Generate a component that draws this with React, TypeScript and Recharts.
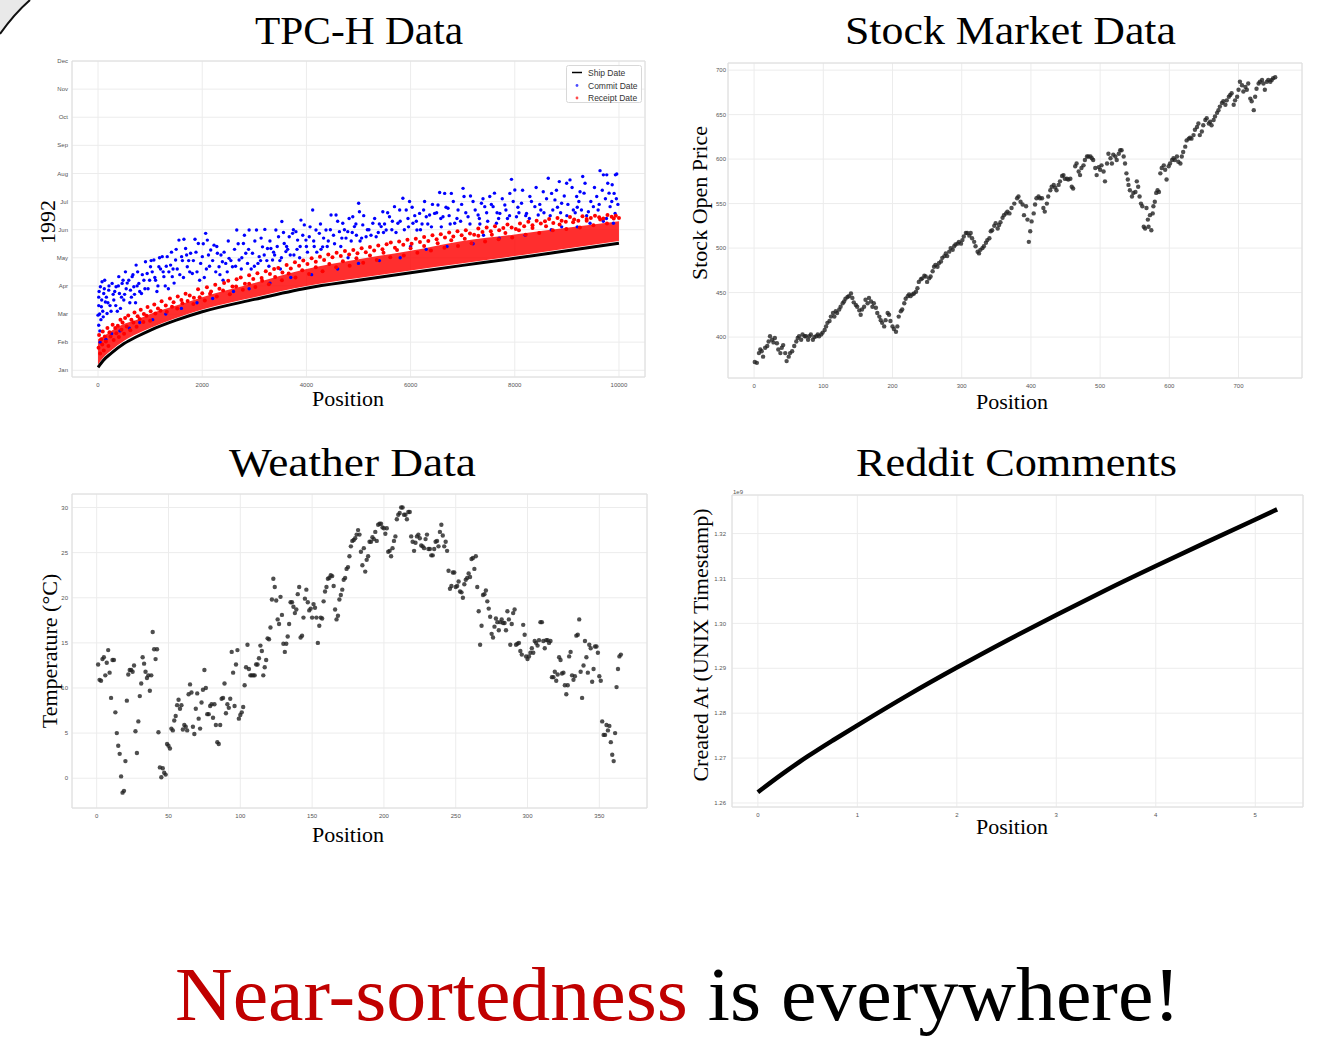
import React from 'react';
import {
  ComposedChart, ScatterChart, LineChart, Scatter, Line, Area, XAxis, YAxis,
  CartesianGrid, ReferenceArea,
} from 'recharts';

// ---------- TPC-H (y in months since Jan 1 1992) ----------
const monthLabels = ['Jan', 'Feb', 'Mar', 'Apr', 'May', 'Jun', 'Jul', 'Aug', 'Sep', 'Oct', 'Nov', 'Dec'];
const tpcXTicks = [0, 2000, 4000, 6000, 8000, 10000];
const shipPos = [0, 100, 250, 500, 750, 1000, 1500, 2000, 3000, 4000, 5000, 6000, 7000, 8000, 9000, 10000];
const shipMonth = [0.1, 0.35, 0.6, 0.95, 1.2, 1.42, 1.78, 2.08, 2.52, 2.92, 3.2, 3.47, 3.73, 3.98, 4.25, 4.52];
const receiptLow = [0.2, 0.45, 0.7, 1.05, 1.3, 1.5, 1.86, 2.16, 2.6, 3.0, 3.28, 3.55, 3.81, 4.06, 4.33, 4.6];
const receiptHigh = [1.1, 1.2, 1.4, 1.65, 1.8, 2.0, 2.3, 2.6, 3.1, 3.6, 3.95, 4.25, 4.6, 4.83, 5.07, 5.3];

const receiptPoints: [number, number][] = [
  [20, 1.25], [60, 1.1], [90, 1.38], [130, 1.2], [180, 1.5], [220, 1.35], [280, 1.62], [330, 1.5], [380, 1.58],
  [430, 1.8], [470, 1.7], [520, 1.86], [580, 1.95], [640, 1.8], [700, 2.05], [760, 1.92], [820, 2.15], [880, 2.0],
  [950, 2.25], [1010, 2.1], [1080, 2.34], [1150, 2.2], [1220, 2.45], [1300, 2.3], [1380, 2.55], [1450, 2.42],
  [1530, 2.62], [1600, 2.5], [1680, 2.72], [1760, 2.66], [1840, 2.58], [1920, 2.88], [2000, 2.74], [2090, 2.95],
  [2170, 2.8], [2250, 3.04], [2330, 2.9], [2420, 3.1], [2500, 3.18], [2580, 2.98], [2660, 3.24], [2740, 3.3],
  [2820, 3.08], [2900, 3.38], [2980, 3.25], [3060, 3.45], [3140, 3.28], [3220, 3.52], [3300, 3.42], [3380, 3.6],
  [3460, 3.64], [3540, 3.48], [3620, 3.74], [3700, 3.62], [3780, 3.84], [3860, 3.72], [3940, 3.9], [4020, 3.78],
  [4100, 3.98], [4180, 3.86], [4260, 4.04], [4340, 3.92], [4420, 4.12], [4500, 4.02], [4580, 4.18], [4660, 4.06],
  [4740, 4.24], [4820, 4.12], [4900, 4.28], [4980, 4.16], [5060, 4.34], [5140, 4.2], [5220, 4.38], [5300, 4.26],
  [5380, 4.44], [5460, 4.3], [5540, 4.48], [5620, 4.54], [5700, 4.36], [5780, 4.58], [5860, 4.46], [5940, 4.64],
  [6020, 4.5], [6100, 4.68], [6180, 4.56], [6260, 4.74], [6340, 4.6], [6420, 4.8], [6500, 4.66], [6580, 4.84],
  [6660, 4.72], [6740, 4.9], [6820, 4.76], [6900, 4.94], [6980, 4.8], [7060, 4.98], [7140, 4.86], [7220, 4.82],
  [7300, 5.04], [7380, 4.92], [7460, 5.08], [7540, 4.94], [7620, 5.12], [7700, 4.98], [7780, 5.06], [7860, 5.18],
  [7940, 5.08], [8020, 5.02], [8100, 5.22], [8180, 5.12], [8260, 5.28], [8340, 5.16], [8420, 5.32], [8500, 5.22],
  [8580, 5.3], [8660, 5.38], [8740, 5.24], [8820, 5.42], [8900, 5.32], [8980, 5.28], [9060, 5.45], [9140, 5.36],
  [9220, 5.32], [9300, 5.48], [9380, 5.38], [9460, 5.42], [9540, 5.5], [9620, 5.44], [9700, 5.4], [9780, 5.52],
  [9860, 5.46], [9940, 5.5], [10000, 5.42],
  [10, 0.8], [40, 0.6], [80, 0.92], [110, 0.7], [150, 1.02], [200, 0.86], [240, 1.2], [300, 1.08], [350, 1.32],
  [400, 1.18], [450, 1.44], [500, 1.3], [550, 1.56], [620, 1.42], [680, 1.7], [740, 1.55], [800, 1.82], [870, 1.72],
  [930, 1.94], [1000, 1.76], [1100, 2.02], [1200, 2.12], [1320, 2.08], [1420, 2.26], [1520, 2.2], [1620, 2.38],
  [1720, 2.46], [1830, 2.36], [1950, 2.6], [2050, 2.48], [2150, 2.72], [2280, 2.62], [2400, 2.84], [2530, 2.7],
  [2650, 2.98], [2780, 2.86], [2900, 3.08], [3020, 2.96], [3150, 3.18], [3280, 3.06], [3400, 3.32], [3530, 3.2],
  [3660, 3.44], [3790, 3.3], [3920, 3.56], [4050, 3.42], [4180, 3.66], [4310, 3.52], [4440, 3.78], [4570, 3.66],
  [4700, 3.88], [4830, 3.72], [4960, 3.98], [5090, 3.82], [5220, 4.08], [5350, 3.92], [5480, 4.18], [5610, 4.02],
  [5740, 4.28], [5870, 4.08], [6000, 4.34], [6130, 4.18], [6260, 4.42], [6390, 4.26], [6520, 4.52], [6650, 4.36],
  [6780, 4.62], [6910, 4.42], [7040, 4.68], [7170, 4.52], [7300, 4.78], [7430, 4.58], [7560, 4.82], [7690, 4.66],
  [7820, 4.88], [7950, 4.72], [8080, 4.98], [8210, 4.82], [8340, 5.06], [8470, 4.88], [8600, 5.12], [8730, 4.98],
  [8860, 5.18], [8990, 5.02], [9120, 5.26], [9250, 5.08], [9380, 5.32], [9510, 5.16], [9640, 5.36], [9770, 5.22],
  [9900, 5.4],
];

const commitPoints: [number, number][] = [
  [13, 1.6], [0, 1.96], [13, 2.6], [45, 2.97], [77, 3.15], [128, 3.2], [13, 2.3], [64, 2.26], [109, 2.73], [141, 2.43],
  [205, 2.85], [173, 2.02], [270, 3.09], [302, 2.5], [346, 2.97], [398, 3.33], [410, 2.73], [462, 3.09], [494, 2.5],
  [526, 3.5], [590, 3.2], [622, 2.85], [655, 3.33], [687, 2.97], [731, 3.74], [783, 3.09], [834, 2.73], [911, 3.86],
  [943, 3.44], [1007, 3.68], [1072, 3.92], [1104, 3.2], [1168, 3.68], [1232, 4.04], [1264, 3.33], [1328, 4.04],
  [1393, 3.74], [1425, 3.33], [1489, 3.92], [1553, 4.63], [1604, 4.04], [1649, 4.66], [1681, 4.33], [1713, 3.68],
  [1777, 4.16], [1810, 3.44], [1861, 4.66], [1925, 4.51], [1970, 3.8], [2002, 4.04], [2066, 4.87], [2098, 4.63],
  [2163, 4.28], [2227, 4.45], [2291, 4.16], [2323, 3.68], [2387, 3.86], [2451, 3.8], [2515, 3.98], [2580, 3.68],
  [2663, 4.99], [2708, 3.92], [2791, 4.51], [2836, 4.16], [2900, 4.99], [2965, 4.16], [3042, 4.99], [3093, 4.04],
  [3157, 4.39], [3202, 5.01], [3253, 4.33], [3318, 4.33], [3350, 3.92], [3414, 4.99], [3465, 4.75], [3529, 5.29],
  [3574, 4.51], [3606, 4.22], [3670, 4.75], [3735, 4.87], [3799, 4.93], [3831, 4.63], [3895, 5.34], [3960, 5.17],
  [3991, 4.63], [4055, 4.75], [4120, 5.7], [4184, 4.99], [4248, 4.87], [4312, 4.39], [4376, 4.99], [4473, 5.52],
  [4569, 5.52], [4634, 4.93], [4698, 5.23], [4794, 4.93], [4890, 5.46], [4922, 5.11], [5003, 5.94], [5018, 5.64],
  [5082, 5.17], [5146, 4.75], [5275, 5.23], [5339, 4.75], [5435, 5.11], [5467, 5.64], [5531, 4.99], [5595, 5.46],
  [5691, 5.82], [5756, 5.23], [5852, 6.12], [5916, 5.7], [5980, 6.0], [6045, 5.23], [6122, 4.99], [6173, 5.58],
  [6269, 6.0], [6301, 5.46], [6365, 5.52], [6461, 5.58], [6558, 6.32], [6526, 5.88], [6622, 5.46], [6654, 6.29],
  [6718, 5.76], [6782, 6.29], [6847, 5.23], [6911, 5.7], [7007, 6.47], [7026, 6.18], [7103, 5.46], [7199, 6.0],
  [7296, 5.52], [7360, 5.94], [7424, 5.82], [7520, 6.18], [7584, 5.82], [7648, 5.23], [7713, 5.58], [7809, 5.88],
  [7905, 6.29], [7937, 6.79], [8001, 6.41], [8033, 5.46], [8130, 5.94], [8226, 5.58], [8290, 6.18], [8386, 5.82],
  [8450, 5.52], [8547, 6.35], [8643, 6.83], [8707, 6.29], [8771, 6.06], [8855, 6.71], [8900, 5.94], [8996, 6.65],
  [9060, 6.77], [9124, 5.7], [9188, 6.18], [9253, 6.35], [9304, 6.89], [9349, 6.65], [9413, 5.64], [9445, 5.23],
  [9509, 5.82], [9573, 6.18], [9637, 7.1], [9701, 6.95], [9766, 6.95], [9785, 6.65], [9830, 5.82], [9862, 6.0],
  [9907, 6.29], [9932, 6.95], [9958, 6.98], [9894, 5.23], [9926, 5.58],
  [30, 2.0], [55, 1.8], [90, 2.1], [160, 2.6], [230, 2.3], [320, 2.8], [370, 2.1], [450, 2.6], [540, 2.9],
  [610, 2.4], [700, 2.7], [760, 3.5], [880, 3.2], [960, 2.9], [1040, 3.5], [1130, 2.8], [1200, 3.6], [1290, 3.0],
  [1360, 3.5], [1460, 3.1], [1520, 3.6], [1640, 3.3], [1740, 3.9], [1900, 3.5], [2040, 3.3], [2140, 3.7],
  [2260, 3.5], [2360, 4.1], [2480, 3.5], [2620, 4.3], [2750, 3.6], [2870, 3.8], [3000, 3.7], [3120, 3.9],
  [3280, 3.7], [3390, 4.1], [3520, 4.0], [3640, 4.3], [3760, 4.1], [3880, 4.4], [4020, 4.2], [4150, 4.4],
  [4280, 4.3], [4420, 4.6], [4540, 4.5], [4660, 4.4], [4760, 4.7], [4860, 4.6], [4960, 4.8], [5060, 4.7],
  [5200, 5.0], [5380, 4.9], [5500, 5.2], [5640, 5.0], [5800, 5.3], [5960, 5.1], [6080, 5.5], [6220, 5.2],
  [6400, 5.1], [6580, 5.4], [6760, 5.2], [6960, 5.3], [7140, 5.2], [7320, 5.4], [7480, 5.3], [7660, 5.6],
  [7860, 5.4], [8080, 5.6], [8280, 5.4], [8500, 5.7], [8680, 5.5], [8820, 5.8], [9000, 5.5], [9200, 5.8],
  [9380, 5.5], [9600, 5.7], [9760, 5.4], [9980, 5.9],
  [40, 1.0], [150, 1.1], [260, 1.3], [420, 1.4], [600, 1.5], [800, 1.7], [1050, 1.8], [1300, 2.0], [1600, 2.2],
  [1900, 2.4], [2200, 2.55], [2400, 3.2], [2600, 2.8], [2900, 2.9], [3300, 3.1], [3500, 3.6], [3700, 3.3],
  [4100, 3.4], [4600, 3.6], [4800, 4.0], [5000, 3.8], [5400, 3.9], [5800, 4.0], [6000, 4.4], [6300, 4.3],
  [6700, 4.4], [7200, 4.5], [7400, 4.8], [7700, 4.7], [8200, 4.8], [8700, 5.0], [8900, 5.1], [9200, 5.1], [9700, 5.3],
  [20, 2.8], [35, 1.4], [70, 2.5], [100, 1.9], [120, 2.9], [190, 2.4], [210, 3.0], [250, 2.1], [290, 2.7],
  [340, 2.3], [390, 3.0], [430, 2.2], [480, 3.2], [510, 2.7], [560, 3.1], [640, 2.6], [670, 3.4], [720, 2.4],
  [750, 3.0], [800, 2.8], [850, 3.4], [900, 2.9], [990, 3.2], [1020, 3.9], [1090, 3.3], [1150, 3.0], [1180, 4.0],
  [1250, 3.5], [1310, 3.7], [1350, 2.9], [1410, 4.2], [1440, 3.6], [1500, 4.3], [1570, 3.4], [1620, 3.9],
  [1700, 4.1], [1760, 3.5], [1830, 3.9], [1880, 4.2], [1950, 3.2], [2020, 4.5], [2080, 3.6], [2120, 4.1],
  [2200, 3.9], [2280, 4.4], [2340, 3.4], [2420, 4.2], [2500, 4.6], [2550, 3.9], [2640, 3.7], [2690, 4.5],
  [2760, 4.0], [2810, 4.8], [2890, 4.3], [2940, 3.6], [3010, 4.6], [3070, 3.8], [3130, 4.7], [3190, 4.1],
  [3240, 3.9], [3300, 4.6], [3370, 4.2], [3440, 4.4], [3490, 3.9], [3560, 4.9], [3620, 4.4], [3690, 4.1],
  [3750, 5.0], [3820, 4.3], [3870, 4.0], [3930, 4.8], [4000, 4.4], [4070, 5.1], [4140, 4.6], [4200, 4.2],
  [4270, 5.2], [4330, 4.7], [4400, 4.4], [4460, 5.0], [4520, 4.8], [4600, 5.3], [4680, 4.7], [4730, 5.0],
  [4820, 5.4], [4880, 4.9], [4950, 5.2], [5030, 4.6], [5100, 5.5], [5170, 5.0], [5240, 4.8], [5310, 5.4],
  [5400, 5.2], [5480, 4.9], [5560, 5.6], [5650, 5.3], [5720, 4.9], [5790, 5.7], [5880, 5.0], [5950, 5.4],
  [6030, 5.8], [6110, 5.3], [6190, 5.0], [6250, 5.7], [6330, 5.2], [6420, 5.9], [6500, 5.6], [6590, 5.1],
  [6680, 5.8], [6740, 5.5], [6820, 6.0], [6890, 5.4], [6980, 5.9], [7060, 5.6], [7150, 6.2], [7240, 5.7],
  [7330, 5.2], [7390, 6.1], [7460, 5.6], [7550, 5.9], [7610, 6.3], [7690, 5.4], [7760, 6.1], [7830, 5.7],
  [7900, 5.5], [7970, 6.0], [8060, 5.8], [8150, 6.4], [8210, 5.5], [8320, 6.0], [8410, 6.5], [8480, 5.9],
  [8560, 5.6], [8610, 6.1], [8730, 5.7], [8800, 6.4], [8880, 5.6], [8950, 6.2], [9020, 5.9], [9100, 6.5],
  [9160, 5.6], [9230, 6.0], [9280, 5.7], [9330, 6.3], [9460, 6.0], [9530, 6.5], [9620, 5.9], [9680, 6.4],
  [9740, 6.1], [9810, 6.3], [9870, 6.6], [9950, 6.1],
];

// ---------- Stock ----------
const stockXTicks = [0, 100, 200, 300, 400, 500, 600, 700];
const stockYTicks = [400, 450, 500, 550, 600, 650, 700];
const stockPoints: [number, number][] = [
  [1, 372], [4, 371], [7, 382], [9, 386], [11, 384], [13, 378], [16, 388], [19, 390], [21, 395], [23, 401], [26, 397],
  [28, 394], [30, 399], [33, 393], [35, 386], [38, 382], [40, 388], [42, 391], [45, 382], [47, 373], [50, 378],
  [52, 382], [55, 384], [58, 390], [61, 395], [63, 399], [65, 401], [68, 397], [70, 403], [73, 401], [75, 401],
  [78, 397], [80, 401], [82, 403], [85, 397], [87, 400], [90, 401], [92, 403], [94, 401], [97, 403], [99, 405],
  [102, 408], [104, 412], [106, 416], [109, 418], [111, 423], [114, 427], [116, 423], [118, 429], [120, 427],
  [123, 431], [125, 434], [128, 438], [130, 440], [132, 443], [135, 445], [137, 446], [140, 449], [142, 444],
  [144, 439], [147, 436], [149, 434], [152, 430], [154, 425], [156, 431], [159, 434], [161, 442], [164, 438],
  [166, 444], [169, 440], [171, 434], [173, 438], [176, 433], [178, 427], [181, 423], [183, 419], [185, 416],
  [188, 412], [190, 419], [193, 427], [195, 425], [197, 418], [200, 412], [202, 409], [205, 406], [207, 412],
  [209, 423], [212, 429], [214, 431], [217, 438], [219, 443], [222, 446], [224, 448], [226, 446], [229, 448],
  [231, 449], [234, 451], [236, 455], [238, 462], [241, 465], [243, 466], [246, 469], [248, 468], [250, 462],
  [253, 466], [255, 468], [258, 474], [260, 479], [262, 481], [265, 479], [267, 483], [270, 485], [272, 489],
  [275, 491], [277, 494], [279, 491], [282, 496], [284, 500], [287, 498], [289, 502], [291, 504], [294, 505],
  [296, 507], [299, 505], [301, 509], [303, 513], [306, 517], [308, 517], [311, 514], [313, 517], [315, 511],
  [318, 507], [320, 502], [323, 496], [325, 494], [327, 498], [330, 500], [332, 502], [335, 506], [337, 509],
  [340, 511], [342, 519], [344, 520], [347, 525], [349, 528], [352, 522], [354, 526], [356, 529], [359, 534],
  [361, 537], [364, 539], [366, 541], [369, 539], [372, 545], [376, 550], [380, 556], [382, 558], [385, 552],
  [388, 549], [390, 537], [393, 547], [395, 532], [397, 507], [399, 519], [401, 530], [404, 539], [406, 549],
  [408, 556], [411, 558], [413, 556], [416, 556], [418, 545], [420, 541], [423, 550], [425, 558], [428, 565],
  [430, 569], [433, 571], [435, 568], [437, 565], [440, 571], [442, 575], [445, 581], [447, 582], [449, 578],
  [452, 578], [454, 577], [457, 578], [459, 569], [461, 567], [464, 592], [466, 595], [469, 586], [471, 582],
  [473, 590], [476, 593], [478, 599], [481, 603], [483, 603], [486, 603], [488, 601], [490, 599], [493, 590],
  [495, 582], [498, 591], [500, 588], [502, 593], [505, 586], [507, 575], [510, 595], [512, 606], [515, 601],
  [517, 595], [519, 605], [522, 603], [524, 599], [527, 606], [529, 610], [531, 610], [534, 603], [536, 595],
  [538, 584], [540, 577], [541, 571], [543, 565], [546, 558], [548, 562], [551, 563], [553, 575], [555, 569],
  [557, 558], [559, 550], [561, 547], [563, 524], [565, 522], [567, 545], [569, 532], [570, 524], [572, 537],
  [574, 520], [576, 539], [577, 547], [579, 552], [581, 562], [583, 565], [585, 563], [587, 584], [589, 590],
  [592, 593], [594, 588], [596, 577], [599, 592], [601, 595], [604, 599], [606, 601], [608, 599], [611, 603],
  [613, 597], [616, 595], [618, 603], [620, 608], [623, 614], [625, 621], [628, 623], [630, 624], [632, 623],
  [635, 627], [637, 633], [640, 636], [642, 640], [644, 627], [647, 631], [649, 638], [652, 644], [654, 646],
  [657, 640], [659, 642], [661, 638], [664, 644], [666, 648], [669, 652], [671, 655], [673, 659], [676, 663],
  [678, 665], [681, 661], [683, 666], [686, 670], [688, 672], [690, 674], [693, 661], [695, 666], [698, 670],
  [700, 678], [702, 687], [705, 683], [707, 676], [710, 681], [712, 678], [714, 685], [717, 668], [719, 665],
  [722, 655], [724, 670], [726, 679], [729, 685], [731, 687], [734, 689], [736, 685], [738, 678], [741, 687],
  [743, 689], [746, 687], [748, 689], [750, 691], [753, 692],
];

// ---------- Weather ----------
const weatherXTicks = [0, 50, 100, 150, 200, 250, 300, 350];
const weatherYTicks = [0, 5, 10, 15, 20, 25, 30];
const weatherPoints: [number, number][] = [
  [1, 12.6], [2, 10.9], [3, 10.8], [4, 13.2], [5, 13.4], [6, 11.4], [7, 12.8], [8, 14.2], [9, 11.7], [10, 8.9],
  [11, 13.1], [12, 13.1], [13, 7.3], [14, 5.0], [15, 3.6], [16, 2.7], [17, 0.2], [18, -1.6], [19, -1.4], [20, 1.9],
  [21, 8.6], [22, 11.5], [23, 12.0], [24, 12.0], [25, 11.8], [26, 12.5], [27, 5.2], [28, 2.8], [29, 6.3], [30, 9.1],
  [31, 10.5], [32, 13.4], [33, 12.7], [34, 11.8], [35, 11.1], [36, 11.4], [37, 9.7], [38, 11.4], [39, 16.2],
  [40, 14.3], [41, 13.2], [42, 14.3], [43, 5.1], [44, 1.2], [45, 0.1], [46, 1.1], [47, 0.6], [48, 0.4], [49, 3.8],
  [50, 3.6], [51, 3.3], [52, 5.5], [53, 5.3], [54, 6.4], [55, 6.9], [56, 8.1], [57, 8.7], [58, 7.7], [59, 8.1],
  [60, 5.4], [61, 5.9], [62, 5.7], [63, 5.3], [64, 9.3], [65, 10.4], [66, 9.5], [67, 5.7], [68, 4.9], [69, 7.7],
  [70, 9.4], [71, 6.6], [72, 5.5], [73, 8.4], [74, 9.8], [75, 12.0], [76, 10.0], [77, 7.1], [78, 7.1], [79, 8.0],
  [80, 8.2], [81, 6.7], [82, 8.2], [83, 5.9], [84, 4.0], [85, 3.8], [86, 5.9], [87, 8.8], [88, 8.9], [89, 10.5],
  [90, 7.2], [91, 8.2], [92, 7.8], [93, 8.8], [94, 14.0], [95, 11.7], [96, 8.0], [97, 12.6], [98, 14.2], [99, 6.6],
  [100, 7.0], [101, 7.3], [102, 7.9], [103, 10.3], [104, 12.3], [105, 14.8], [106, 12.1], [107, 11.4], [108, 11.4],
  [109, 11.4], [110, 11.4], [111, 12.6], [112, 12.6], [113, 13.3], [114, 14.7], [115, 14.1], [116, 11.4],
  [117, 12.3], [118, 13.1], [119, 15.5], [120, 15.4], [121, 16.7], [122, 19.8], [123, 22.1], [124, 21.2],
  [125, 19.7], [126, 17.6], [127, 17.1], [128, 20.1], [129, 18.1], [130, 14.9], [131, 14.0], [132, 14.9],
  [133, 15.7], [134, 17.1], [135, 19.5], [136, 19.5], [137, 19.0], [138, 18.3], [139, 18.7], [140, 20.4],
  [141, 21.2], [142, 15.6], [143, 15.8], [144, 17.8], [145, 19.9], [146, 20.9], [147, 19.5], [148, 18.6],
  [149, 18.8], [150, 17.8], [151, 19.3], [152, 18.9], [153, 17.8], [154, 15.0], [155, 16.9], [156, 17.8],
  [157, 17.7], [158, 19.6], [159, 20.7], [160, 21.2], [161, 22.1], [162, 22.2], [163, 22.5], [164, 22.4],
  [165, 21.3], [166, 18.7], [167, 17.6], [168, 18.0], [169, 19.8], [170, 20.3], [171, 20.9], [172, 22.0],
  [173, 22.2], [174, 23.2], [175, 23.4], [176, 24.6], [177, 25.7], [178, 26.3], [179, 26.4], [180, 26.6],
  [181, 27.0], [182, 27.5], [183, 27.0], [184, 25.1], [185, 23.6], [186, 25.5], [187, 22.9], [188, 24.2],
  [189, 24.6], [190, 26.2], [191, 26.2], [192, 26.7], [193, 26.5], [194, 27.3], [195, 26.3], [196, 28.1],
  [197, 28.2], [198, 28.2], [199, 27.8], [200, 27.7], [201, 27.1], [202, 27.7], [203, 25.1], [204, 25.2],
  [205, 24.6], [206, 25.5], [207, 26.3], [208, 26.8], [209, 28.7], [210, 29.2], [211, 29.4], [212, 30.0],
  [213, 30.0], [214, 29.2], [215, 29.2], [216, 28.7], [217, 29.5], [218, 29.5], [219, 26.8], [220, 26.2],
  [221, 25.2], [222, 26.1], [223, 26.8], [224, 27.0], [225, 26.6], [226, 25.8], [227, 25.7], [228, 25.5],
  [229, 26.5], [230, 27.0], [231, 25.4], [232, 25.4], [233, 24.7], [234, 24.7], [235, 25.4], [236, 26.2],
  [237, 26.3], [238, 25.7], [239, 27.3], [240, 28.1], [241, 26.9], [242, 25.7], [243, 26.2], [244, 25.2],
  [245, 23.0], [246, 21.0], [247, 21.3], [248, 22.8], [249, 22.8], [250, 21.2], [251, 21.3], [252, 21.8],
  [253, 20.7], [254, 20.6], [255, 20.0], [256, 21.5], [257, 22.0], [258, 22.2], [259, 22.7], [260, 22.3],
  [261, 24.3], [262, 24.4], [263, 23.2], [264, 24.6], [265, 21.2], [266, 18.5], [267, 14.8], [268, 16.9],
  [269, 20.3], [270, 20.4], [271, 20.8], [272, 19.6], [273, 18.8], [274, 17.9], [275, 16.0], [276, 15.6],
  [277, 16.8], [278, 17.7], [279, 17.3], [280, 16.4], [281, 17.3], [282, 17.6], [283, 17.2], [284, 17.2],
  [285, 16.4], [286, 18.5], [287, 17.6], [288, 14.8], [289, 17.1], [290, 18.3], [291, 18.7], [292, 14.8],
  [293, 14.9], [294, 15.0], [295, 14.1], [296, 13.7], [297, 17.0], [298, 15.9], [299, 13.5], [300, 13.2],
  [301, 13.5], [302, 13.9], [303, 14.4], [304, 13.9], [305, 15.2], [306, 15.0], [307, 14.7], [308, 15.3],
  [309, 17.3], [310, 17.3], [311, 15.2], [312, 14.4], [313, 15.3], [314, 15.3], [315, 15.0], [316, 15.2],
  [317, 11.2], [318, 11.2], [319, 11.8], [320, 10.8], [321, 11.5], [322, 13.4], [323, 13.1], [324, 11.6],
  [325, 11.7], [326, 10.3], [327, 9.3], [328, 10.3], [329, 13.5], [330, 14.0], [331, 11.4], [332, 10.9],
  [333, 11.3], [334, 15.8], [335, 15.9], [336, 17.6], [337, 11.8], [338, 8.9], [339, 12.5], [340, 15.2],
  [341, 13.4], [342, 11.7], [343, 14.8], [344, 14.4], [345, 10.7], [346, 12.1], [347, 14.6], [348, 14.6],
  [349, 13.9], [350, 11.3], [351, 10.8], [352, 6.3], [353, 4.8], [354, 4.8], [355, 5.9], [356, 5.3], [357, 5.8],
  [358, 4.0], [359, 2.6], [360, 1.9], [361, 5.0], [362, 10.1], [363, 12.1], [364, 13.5], [365, 13.7],
];

// ---------- Reddit (y in units of 1e9 s) ----------
const redditXTicks = [0, 1, 2, 3, 4, 5];
const redditYTicks = [1.26, 1.27, 1.28, 1.29, 1.3, 1.31, 1.32];
const redditPos = [0, 0.25, 0.5, 0.75, 1, 1.5, 2, 2.5, 3, 3.5, 4, 4.5, 5, 5.22];
const redditCreated = [1.2624, 1.2666, 1.2704, 1.2739, 1.2773, 1.284, 1.2902, 1.2962, 1.3019, 1.3075, 1.3128, 1.318, 1.3231, 1.3254];

const tpcTable = shipPos.map((x, i) => ({ x, ship: shipMonth[i], band: [receiptLow[i], receiptHigh[i]] }));
const toXY = (pts: [number, number][]) => pts.map(([x, y]) => ({ x, y }));
const redditTable = redditPos.map((x, i) => ({ x, y: redditCreated[i] }));

const SERIF = '"Liberation Serif", "Times New Roman", serif';
const SANS = '"Liberation Sans", Arial, sans-serif';
const tickStyle = { fontSize: 6, fill: '#555', fontFamily: SANS };
const GRID = '#ececec';
const FRAME = '#dedede';

const dot = (r: number, fill: string, op = 1) => (p: any) =>
  p.cx == null ? <g /> : <circle cx={p.cx} cy={p.cy} r={r} fill={fill} fillOpacity={op} />;

const box = (left: number, top: number, w: number, h: number): React.CSSProperties => ({
  position: 'absolute', left, top, width: w, height: h,
});
const M = { top: 10, right: 10, bottom: 0, left: 0 };

export default function App() {
  return (
    <div style={{ position: 'absolute', left: 0, top: 0, width: 1338, height: 1038, background: '#fff', overflow: 'hidden' }}>
      {/* TPC-H */}
      <div style={box(12, 51, 643, 346)}>
        <ComposedChart width={643} height={346} data={tpcTable} margin={M}>
          <CartesianGrid stroke={GRID} />
          <XAxis type="number" dataKey="x" domain={[-500, 10500]} ticks={tpcXTicks} allowDataOverflow
            tick={tickStyle} tickLine={false} axisLine={false} tickSize={4} tickMargin={2} height={20} interval={0} />
          <YAxis type="number" domain={[-0.24, 11]} ticks={[0, 1, 2, 3, 4, 5, 6, 7, 8, 9, 10, 11]} allowDataOverflow
            tickFormatter={(v: number) => monthLabels[v]} tick={tickStyle} tickLine={false} axisLine={false}
            tickSize={2} tickMargin={2} width={60} interval={0} />
          <ReferenceArea x1={-500} x2={10500} y1={-0.24} y2={11} fill="none" stroke={FRAME} />
          <Area dataKey="band" type="monotone" stroke="none" fill="#ff0000" fillOpacity={0.82} isAnimationActive={false} />
          <Scatter data={toXY(commitPoints)} dataKey="y" fill="#0000ff" shape={dot(1.7, '#0000ff')} isAnimationActive={false} />
          <Scatter data={toXY(receiptPoints)} dataKey="y" fill="#ff0000" shape={dot(2, '#ff0000')} isAnimationActive={false} />
          <Line dataKey="ship" type="monotone" stroke="#000" strokeWidth={3} dot={false} isAnimationActive={false} />
        </ComposedChart>
      </div>

      {/* Stock */}
      <div style={box(668, 53, 644, 345)}>
        <ScatterChart width={644} height={345} margin={M}>
          <CartesianGrid stroke={GRID} />
          <XAxis type="number" dataKey="x" domain={[-37.7, 791.7]} ticks={stockXTicks} allowDataOverflow
            tick={tickStyle} tickLine={false} axisLine={false} tickSize={4} tickMargin={2} height={20} interval={0} />
          <YAxis type="number" dataKey="y" domain={[354, 708]} ticks={stockYTicks} allowDataOverflow
            tick={tickStyle} tickLine={false} axisLine={false} tickSize={1} tickMargin={1} width={60} interval={0} />
          <ReferenceArea x1={-37.7} x2={791.7} y1={354} y2={708} fill="none" stroke={FRAME} />
          <Scatter data={toXY(stockPoints)} shape={dot(2.2, '#222', 0.8)} isAnimationActive={false} />
        </ScatterChart>
      </div>

      {/* Weather */}
      <div style={box(12, 484, 645, 344)}>
        <ScatterChart width={645} height={344} margin={M}>
          <CartesianGrid stroke={GRID} />
          <XAxis type="number" dataKey="x" domain={[-17.2, 383.2]} ticks={weatherXTicks} allowDataOverflow
            tick={tickStyle} tickLine={false} axisLine={false} tickSize={4} tickMargin={2} height={20} interval={0} />
          <YAxis type="number" dataKey="y" domain={[-3.3, 31.5]} ticks={weatherYTicks} allowDataOverflow
            tick={tickStyle} tickLine={false} axisLine={false} tickSize={2} tickMargin={2} width={60} interval={0} />
          <ReferenceArea x1={-17.2} x2={383.2} y1={-3.3} y2={31.5} fill="none" stroke={FRAME} />
          <Scatter data={toXY(weatherPoints)} shape={dot(2.2, '#222', 0.8)} isAnimationActive={false} />
        </ScatterChart>
      </div>

      {/* Reddit */}
      <div style={box(672, 485, 641, 342)}>
        <LineChart width={641} height={342} data={redditTable} margin={M}>
          <CartesianGrid stroke={GRID} />
          <XAxis type="number" dataKey="x" domain={[-0.26, 5.48]} ticks={redditXTicks} allowDataOverflow
            tick={tickStyle} tickLine={false} axisLine={false} tickSize={4} tickMargin={2} height={20} interval={0} />
          <YAxis type="number" domain={[1.2591, 1.3286]} ticks={redditYTicks} allowDataOverflow
            tickFormatter={(v: number) => v.toFixed(2)} tick={tickStyle} tickLine={false} axisLine={false}
            tickSize={3} tickMargin={3} width={60} interval={0} />
          <ReferenceArea x1={-0.26} x2={5.48} y1={1.2591} y2={1.3286} fill="none" stroke={FRAME} />
          <Line dataKey="y" type="basis" stroke="#000" strokeWidth={4.5} dot={false} isAnimationActive={false} />
        </LineChart>
      </div>

      {/* titles, axis names, legend */}
      <svg width={1338} height={1038} style={{ position: 'absolute', left: 0, top: 0, pointerEvents: 'none' }}>
        <path d="M0,34 Q14,14 30,0 L0,0 Z" fill="#e9e9e9" />
        <path d="M0,34 Q14,14 30,0" fill="none" stroke="#111" strokeWidth={2} />
        <g fontFamily={SERIF} fill="#000" textAnchor="middle">
          <text x={359} y={43.5} fontSize={41} textLength={208} lengthAdjust="spacingAndGlyphs">TPC-H Data</text>
          <text x={1010.5} y={43.5} fontSize={41} textLength={331} lengthAdjust="spacingAndGlyphs">Stock Market Data</text>
          <text x={352.5} y={476} fontSize={41} textLength={247} lengthAdjust="spacingAndGlyphs">Weather Data</text>
          <text x={1016.5} y={476} fontSize={41} textLength={321} lengthAdjust="spacingAndGlyphs">Reddit Comments</text>
          <text x={348} y={406} fontSize={22}>Position</text>
          <text x={1012} y={409} fontSize={22}>Position</text>
          <text x={348} y={842} fontSize={22}>Position</text>
          <text x={1012} y={834} fontSize={22}>Position</text>
          <text transform="translate(55,222) rotate(-90)" fontSize={22}>1992</text>
          <text transform="translate(707,203) rotate(-90)" fontSize={22}>Stock Open Price</text>
          <text transform="translate(57,651) rotate(-90)" fontSize={22}>Temperature (°C)</text>
          <text transform="translate(708,645) rotate(-90)" fontSize={22}>Created At (UNIX Timestamp)</text>
          <text x={677.5} y={1020} fontSize={76} textLength={1005} lengthAdjust="spacingAndGlyphs">
            <tspan fill="#c00000">Near-sortedness</tspan> is everywhere!
          </text>
        </g>
        <text x={733} y={494} fontSize={6} fill="#555" fontFamily={SANS}>1e9</text>
        <g fontFamily={SANS} fontSize={8.5} fill="#333">
          <rect x={566.5} y={65.5} width={75} height={37} rx={2} fill="#fff" fillOpacity={0.85} stroke="#d8d8d8" />
          <line x1={572} x2={582} y1={72.5} y2={72.5} stroke="#000" strokeWidth={1.5} />
          <text x={588} y={75.5}>Ship Date</text>
          <circle cx={577} cy={85.5} r={1.4} fill="#0000ff" fillOpacity={0.7} />
          <text x={588} y={88.5}>Commit Date</text>
          <circle cx={577} cy={98} r={1.4} fill="#ff0000" fillOpacity={0.7} />
          <text x={588} y={101}>Receipt Date</text>
        </g>
      </svg>
    </div>
  );
}
